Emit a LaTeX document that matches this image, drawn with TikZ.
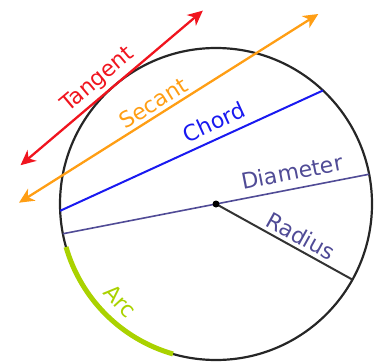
\documentclass[tikz,border=0pt]{standalone}
\usepackage{fontspec}
\setmainfont{DejaVu Sans}
\usetikzlibrary{arrows.meta}
\definecolor{tanred}{RGB}{240,20,30}
\definecolor{secorange}{RGB}{255,158,20}
\definecolor{chordblue}{RGB}{25,25,240}
\definecolor{diapurple}{RGB}{80,75,150}
\definecolor{arcgreen}{RGB}{170,210,0}
\tikzset{
  lbl/.style={font=\fontsize{22}{26}\selectfont, inner sep=0pt},
  arr/.style={line width=2.3pt, {Stealth[length=15pt,width=14pt,inset=4.5pt]}-{Stealth[length=15pt,width=14pt,inset=4.5pt]}},
}
\begin{document}
\begin{tikzpicture}[x=1pt,y=1pt]
\useasboundingbox (0,0) rectangle (385,-361);
\coordinate (C) at (216,-204);
% points on circle
\coordinate (D1) at ([shift={(11:156)}]C);
\coordinate (D2) at ([shift={(191:156)}]C);
\coordinate (R1) at ([shift={(-29:156)}]C);
\coordinate (Ch1) at ([shift={(46.7:156)}]C);
\coordinate (Ch2) at ([shift={(182.5:156)}]C);
\coordinate (TP) at ([shift={(130.3:156)}]C);
\coordinate (TA) at ([shift={(40.3:115)}]TP);
\coordinate (TB) at ([shift={(220.3:124)}]TP);
\coordinate (SA) at (318.3,-14);
\coordinate (SB) at (19,-202.7);
% circle
\draw[line width=2.2pt, black!85] (C) circle[radius=156];
% arc
\draw[line width=5pt, arcgreen] ([shift={(196:156)}]C) arc[start angle=196, end angle=254, radius=156];
% chord
\draw[line width=2pt, chordblue] (Ch2) -- (Ch1);
% diameter
\draw[line width=1.6pt, diapurple] (D2) -- (D1);
% radius
\draw[line width=2pt, black!80] (C) -- (R1);
\fill[black] (C) circle[radius=3.5];
% secant, tangent
\draw[arr, secorange] (SB) -- (SA);
\draw[arr, tanred] (TB) -- (TA);
% labels
\node[lbl, text=tanred, rotate=40] (lt) at (98,-80) {Tangent};
\node[lbl, text=secorange, rotate=32] (ls) at (153,-103) {Secant};
\node[lbl, text=chordblue, rotate=24.6] (lc) at (214,-122) {Chord};
\node[lbl, text=diapurple, rotate=11] (ld) at (292,-172) {Diameter};
\node[lbl, text=diapurple, rotate=-29] (lr) at (301,-236) {Radius};
\node[lbl, text=arcgreen, rotate=-47] (la) at (120,-301) {Arc};
\end{tikzpicture}
\end{document}
